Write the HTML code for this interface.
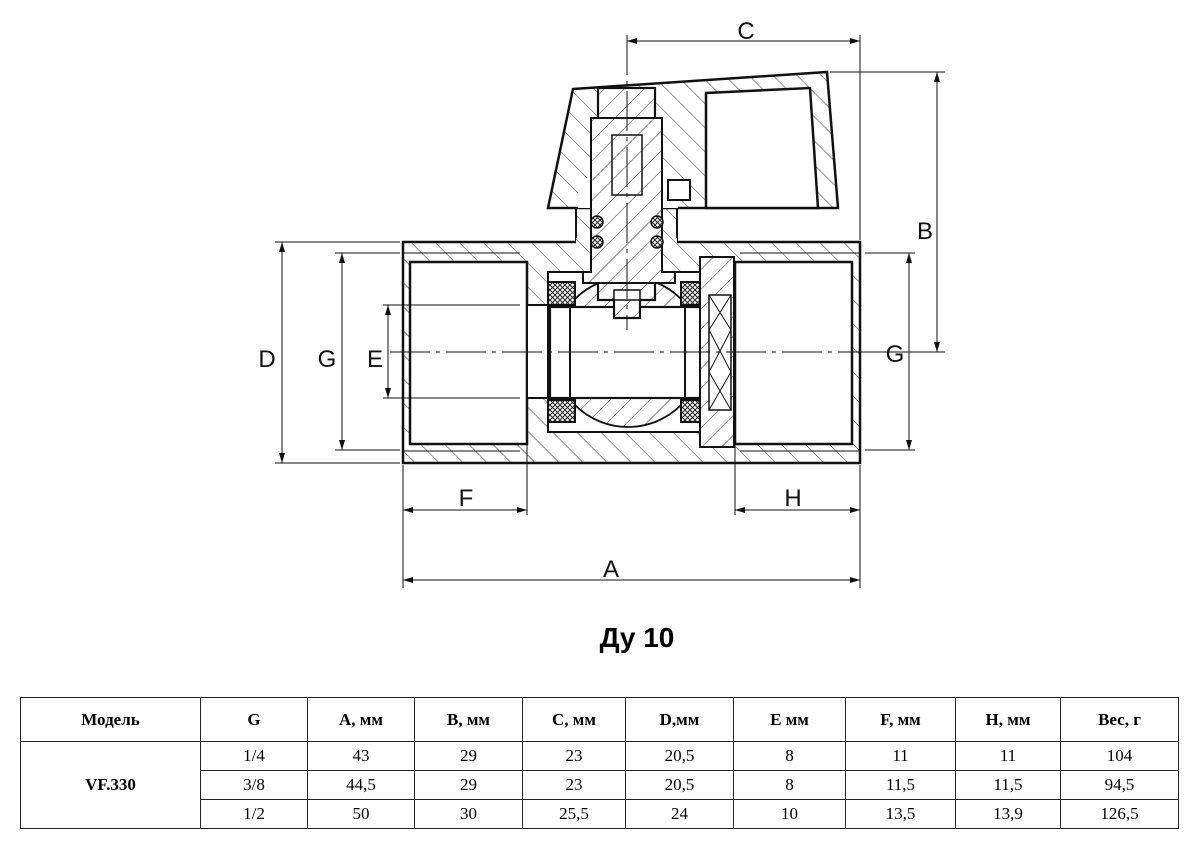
<!DOCTYPE html>
<html><head><meta charset="utf-8"><style>
body{margin:0;background:#fff;width:1200px;height:852px;overflow:hidden;font-family:"Liberation Sans",sans-serif}
svg{position:absolute;left:0;top:0}
table{position:absolute;left:20px;top:697px;width:1158px;border-collapse:collapse;font-family:"Liberation Serif",serif;font-size:17px;table-layout:fixed}
td{border:1.5px solid #222;text-align:center;padding:0;line-height:28px;height:28px}
tr.h td{font-weight:bold;height:43px}
#t{position:absolute;left:560px;top:622px;width:154px;text-align:center;font-weight:bold;font-size:28px;font-family:"Liberation Sans",sans-serif}
</style></head><body>
<svg width="1200" height="700" viewBox="0 0 1200 700">
<defs>
<pattern id="h" width="17" height="17" patternUnits="userSpaceOnUse" patternTransform="rotate(-45)"><rect width="17" height="17" fill="#fff"/><line x1="0" y1="0" x2="0" y2="17" stroke="#333" stroke-width="1"/></pattern>
<pattern id="h2" width="14" height="14" patternUnits="userSpaceOnUse" patternTransform="rotate(45)"><rect width="14" height="14" fill="#fff"/><line x1="0" y1="0" x2="0" y2="14" stroke="#333" stroke-width="1"/></pattern>
<pattern id="x" width="5" height="5" patternUnits="userSpaceOnUse"><rect width="5" height="5" fill="#fff"/><path d="M0 0L5 5M5 0L0 5" stroke="#222" stroke-width="1"/></pattern>
<marker id="a" viewBox="0 0 10 6" refX="10" refY="3" markerWidth="10" markerHeight="6" orient="auto-start-reverse"><path d="M0 0L10 3L0 6z" fill="#111"/></marker>
</defs>
<g fill="none" stroke="#111">
<rect x="403" y="242" width="457" height="221" fill="url(#h)" stroke-width="2.5"/>
<rect x="410" y="262" width="117" height="182" fill="#fff" stroke-width="2.5"/>
<rect x="735" y="262" width="117" height="182" fill="#fff" stroke-width="2.5"/>
<line x1="403" y1="253" x2="520" y2="253" stroke-width="1"/><line x1="403" y1="451" x2="520" y2="451" stroke-width="1"/>
<line x1="740" y1="253" x2="860" y2="253" stroke-width="1"/><line x1="740" y1="451" x2="860" y2="451" stroke-width="1"/>
<rect x="527" y="305" width="30" height="93" fill="#fff" stroke-width="2"/>
<rect x="548" y="272" width="160" height="160" fill="#fff" stroke-width="2"/>
<circle cx="628" cy="352" r="75" fill="url(#h2)" stroke-width="1.8"/>
<rect x="550" y="307" width="156" height="91" fill="#fff" stroke-width="2.2"/>
<line x1="570" y1="307" x2="570" y2="398" stroke-width="2"/><line x1="685" y1="307" x2="685" y2="398" stroke-width="2"/>
<rect x="548" y="282" width="27" height="23" fill="url(#x)" stroke-width="2"/>
<rect x="681" y="282" width="26" height="23" fill="url(#x)" stroke-width="2"/>
<rect x="548" y="400" width="27" height="22" fill="url(#x)" stroke-width="2"/>
<rect x="681" y="400" width="26" height="22" fill="url(#x)" stroke-width="2"/>
<rect x="700" y="257" width="34" height="190" fill="url(#h2)" stroke-width="2"/>
<rect x="709" y="295" width="22" height="115" fill="#fff" stroke-width="1.5"/>
<path d="M709 295L731 330M731 295L709 330M709 330L731 372M731 330L709 372M709 372L731 410M731 372L709 410" stroke-width="1"/>
<path d="M576 242V183H677V242" fill="url(#h)" stroke-width="2"/>
<rect x="576" y="238" width="101" height="10" fill="url(#h)" stroke="none"/>
<path d="M573 89L827 72L838 208L548 208Z" fill="url(#h)" stroke-width="2.5"/>
<path d="M706 93L810 88L818 208L706 208Z" fill="#fff" stroke-width="2.5"/>
<rect x="578" y="178" width="100" height="30" fill="#fff" stroke="none"/>
<rect x="668" y="180" width="22" height="20" fill="#fff" stroke-width="2"/>
<path d="M598 88H655V300H640V318H614V300H598Z" fill="url(#h2)" stroke-width="2.2"/>
<path d="M591 118H662V272H675V283H583V272H591Z" fill="url(#h2)" stroke-width="2"/>
<rect x="612" y="135" width="30" height="60" fill="url(#h2)" stroke-width="1.5"/>
<rect x="614" y="290" width="26" height="10" fill="#fff" stroke-width="1.5"/>
<g fill="url(#x)" stroke-width="1.5"><circle cx="597" cy="222" r="6"/><circle cx="597" cy="242" r="6"/><circle cx="657" cy="222" r="6"/><circle cx="657" cy="242" r="6"/></g>
<g stroke-width="1" stroke-dasharray="40 6 4 6"><line x1="390" y1="352" x2="870" y2="352"/><line x1="627" y1="35" x2="627" y2="330"/></g>
<g stroke-width="1">
<line x1="275" y1="242" x2="400" y2="242"/><line x1="275" y1="463" x2="400" y2="463"/>
<line x1="335" y1="253" x2="400" y2="253"/><line x1="335" y1="450" x2="400" y2="450"/>
<line x1="383" y1="305" x2="520" y2="305"/><line x1="383" y1="398" x2="520" y2="398"/>
<line x1="282" y1="242" x2="282" y2="463" marker-start="url(#a)" marker-end="url(#a)"/>
<line x1="342" y1="253" x2="342" y2="450" marker-start="url(#a)" marker-end="url(#a)"/>
<line x1="388" y1="305" x2="388" y2="398" marker-start="url(#a)" marker-end="url(#a)"/>
<line x1="403" y1="465" x2="403" y2="588"/><line x1="527" y1="440" x2="527" y2="515"/>
<line x1="735" y1="440" x2="735" y2="515"/><line x1="860" y1="465" x2="860" y2="588"/>
<line x1="403" y1="510" x2="527" y2="510" marker-start="url(#a)" marker-end="url(#a)"/>
<line x1="735" y1="510" x2="860" y2="510" marker-start="url(#a)" marker-end="url(#a)"/>
<line x1="403" y1="580" x2="860" y2="580" marker-start="url(#a)" marker-end="url(#a)"/>
<line x1="860" y1="35" x2="860" y2="240"/>
<line x1="627" y1="41" x2="860" y2="41" marker-start="url(#a)" marker-end="url(#a)"/>
<line x1="830" y1="72" x2="945" y2="72"/><line x1="870" y1="352" x2="945" y2="352"/>
<line x1="937" y1="72" x2="937" y2="352" marker-start="url(#a)" marker-end="url(#a)"/>
<line x1="865" y1="253" x2="915" y2="253"/><line x1="865" y1="450" x2="915" y2="450"/>
<line x1="909" y1="253" x2="909" y2="450" marker-start="url(#a)" marker-end="url(#a)"/>
</g>
</g>
<g font-family="Liberation Sans,sans-serif" font-size="24" fill="#111" text-anchor="middle">
<text x="267" y="367">D</text><text x="327" y="367">G</text><text x="375" y="367">E</text>
<text x="466" y="506">F</text><text x="793" y="506">H</text><text x="611" y="577">A</text>
<text x="746" y="39">C</text><text x="925" y="239">B</text><text x="895" y="362">G</text>
</g>
</svg>
<div id="t">Ду 10</div>
<table>
<colgroup><col style="width:180px"><col style="width:107px"><col style="width:107px"><col style="width:108px"><col style="width:103px"><col style="width:108px"><col style="width:112px"><col style="width:110px"><col style="width:105px"><col style="width:118px"></colgroup>
<tr class="h"><td>Модель</td><td>G</td><td>A, мм</td><td>B, мм</td><td>C, мм</td><td>D,мм</td><td>E мм</td><td>F, мм</td><td>H, мм</td><td>Вес, г</td></tr>
<tr><td rowspan="3" style="font-weight:bold">VF.330</td><td>1/4</td><td>43</td><td>29</td><td>23</td><td>20,5</td><td>8</td><td>11</td><td>11</td><td>104</td></tr>
<tr><td>3/8</td><td>44,5</td><td>29</td><td>23</td><td>20,5</td><td>8</td><td>11,5</td><td>11,5</td><td>94,5</td></tr>
<tr><td>1/2</td><td>50</td><td>30</td><td>25,5</td><td>24</td><td>10</td><td>13,5</td><td>13,9</td><td>126,5</td></tr>
</table>
</body></html>
